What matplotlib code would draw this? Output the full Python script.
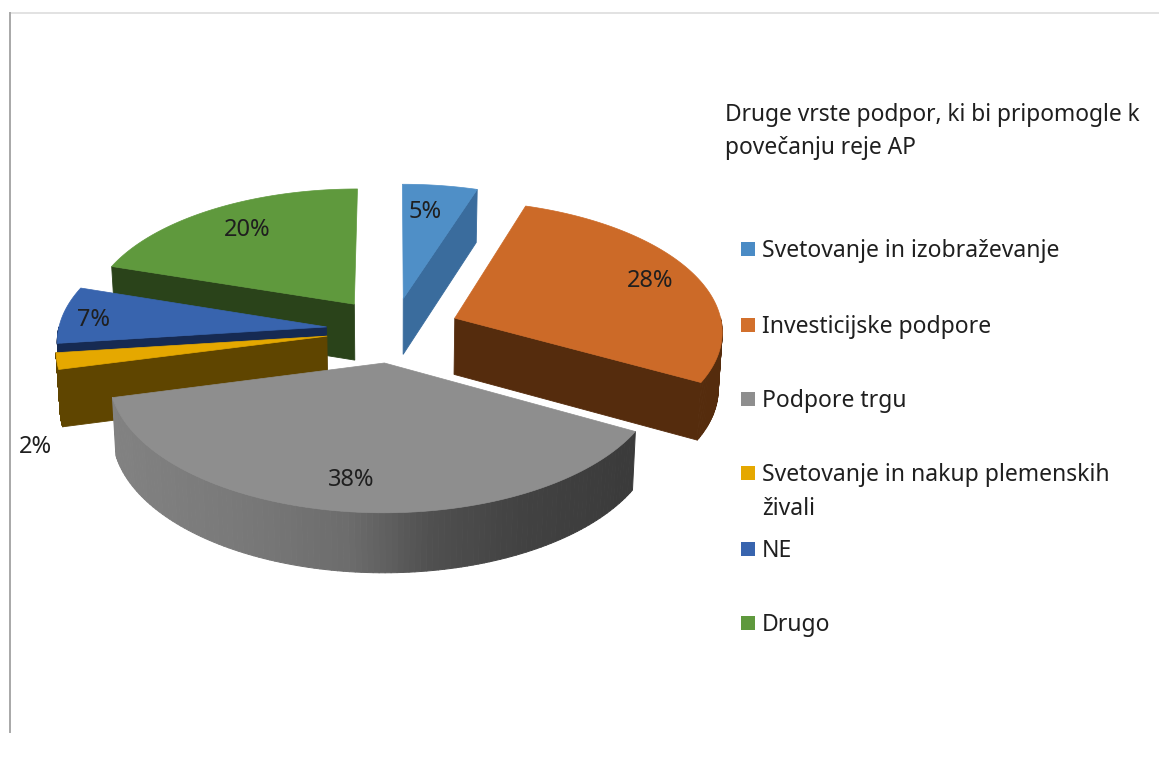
import numpy as np
import matplotlib
matplotlib.use("Agg")
import matplotlib.pyplot as plt
from matplotlib.patches import Polygon, Rectangle
from matplotlib.collections import PolyCollection

categories = ["Svetovanje in izobraževanje", "Investicijske podpore", "Podpore trgu",
              "Svetovanje in nakup plemenskih\nživali", "NE", "Drugo"]
values = [5, 28, 38, 2, 7, 20]
pct_labels = ["5%", "28%", "38%", "2%", "7%", "20%"]
title_text = "Druge vrste podpor, ki bi pripomogle k\npovečanju reje AP"

top_colors = ["#4f8fc7", "#cc6a28", "#8e8e8e", "#e5a800", "#3864ae", "#5f993d"]
side_colors = ["#3a6c9d", "#552c0d", "#6e6e6e", "#5f4500", "#162a52", "#2a431a"]
legend_colors = ["#4a8bc5", "#d2702c", "#8e8e8e", "#e5a800", "#3864ae", "#5f993d"]

label_xy = [(425, 212), (650, 281), (351, 480), (35, 447), (93, 320), (247, 230)]
legend_y = [249, 325, 399, 473, 549, 623]
draw_order = [5, 0, 4, 3, 1, 2]

CX, CY, A0, B0, K, EXPL = 393, 330, 268, 130, 0.09, 0.25
DEPTH, DEPTH_M, Q = 56.5, 0.05, 0.988
TEXT_DY = 2
FONT = "Noto Sans"
TXT = "#1f1f1f"

fig = plt.figure(figsize=(11.59, 7.58), dpi=100)
ax = fig.add_axes([0, 0, 1, 1])
ax.set_xlim(0, 1159)
ax.set_ylim(758, 0)
ax.axis("off")

ax.plot([10, 1159], [13, 13], color="#dddddd", lw=1.2)
ax.plot([10, 10], [13, 732], color="#a8a8a8", lw=1.4)


def top(rx, ry):
    s = 1 + K * ry
    return CX + A0 * rx / s, CY - B0 * ry / s


def bottom(x, y, ry):
    return CX + (x - CX) * Q, y + DEPTH * (1 - DEPTH_M * ry)


fractions = np.cumsum([0] + values) / sum(values) * 2 * np.pi
grey_stops_x = [110, 250, 350, 430, 520, 640]
grey_stops_v = [0x82, 0x78, 0x6c, 0x50, 0x42, 0x3a]

for i in draw_order:
    a0, a1 = fractions[i], fractions[i + 1]
    mid = (a0 + a1) / 2
    ox, oy = EXPL * np.sin(mid), EXPL * np.cos(mid)
    th = np.linspace(a0, a1, 120)
    rx = ox + np.sin(th)
    ry = oy + np.cos(th)
    x, y = top(rx, ry)
    ax_, ay_ = top(ox, oy)
    bx, by = bottom(x, y, ry)
    abx, aby = bottom(ax_, ay_, oy)

    # radial cut faces: visible on the end edge on the right, start edge on the left
    if a1 < np.pi:
        ax.add_patch(Polygon([(ax_, ay_), (x[-1], y[-1]), (bx[-1], by[-1]), (abx, aby)],
                             fc=side_colors[i], ec=side_colors[i], lw=0.6))
    if a0 > np.pi:
        ax.add_patch(Polygon([(ax_, ay_), (x[0], y[0]), (bx[0], by[0]), (abx, aby)],
                             fc=side_colors[i], ec=side_colors[i], lw=0.6))

    # outer rim, only where it faces the viewer
    quads, cols = [], []
    for j in range(len(th) - 1):
        if np.cos((th[j] + th[j + 1]) / 2) < 0:
            quads.append([(x[j], y[j]), (x[j + 1], y[j + 1]), (bx[j + 1], by[j + 1]), (bx[j], by[j])])
            if i == 2:
                v = np.interp((x[j] + x[j + 1]) / 2, grey_stops_x, grey_stops_v) / 255
                cols.append((v, v, v))
            else:
                cols.append(side_colors[i])
    if quads:
        ax.add_collection(PolyCollection(quads, facecolors=cols, edgecolors=cols, linewidths=0.7))

    ax.add_patch(Polygon(np.vstack([[ax_, ay_], np.column_stack([x, y])]),
                         fc=top_colors[i], ec=top_colors[i], lw=0.5, joinstyle="round"))

for (lx, ly), t in zip(label_xy, pct_labels):
    ax.text(lx, ly, t, ha="center", va="center", fontsize=17, family=FONT, color=TXT)

ax.text(725, 129.5 + TEXT_DY, title_text, ha="left", va="center", fontsize=16.4, family=FONT,
        color=TXT, linespacing=1.5)

for name, col, ly in zip(categories, legend_colors, legend_y):
    ax.add_patch(Rectangle((741, ly - 7), 14, 14, fc=col, ec="none"))
    ax.text(762, ly + TEXT_DY, name.split("\n")[0], ha="left", va="center", fontsize=16.5,
            family=FONT, color=TXT)
    if "\n" in name:
        ax.text(762, ly + 34 + TEXT_DY, name.split("\n")[1], ha="left", va="center", fontsize=16.5,
                family=FONT, color=TXT)

fig.savefig("out.png", dpi=100, facecolor="white")
